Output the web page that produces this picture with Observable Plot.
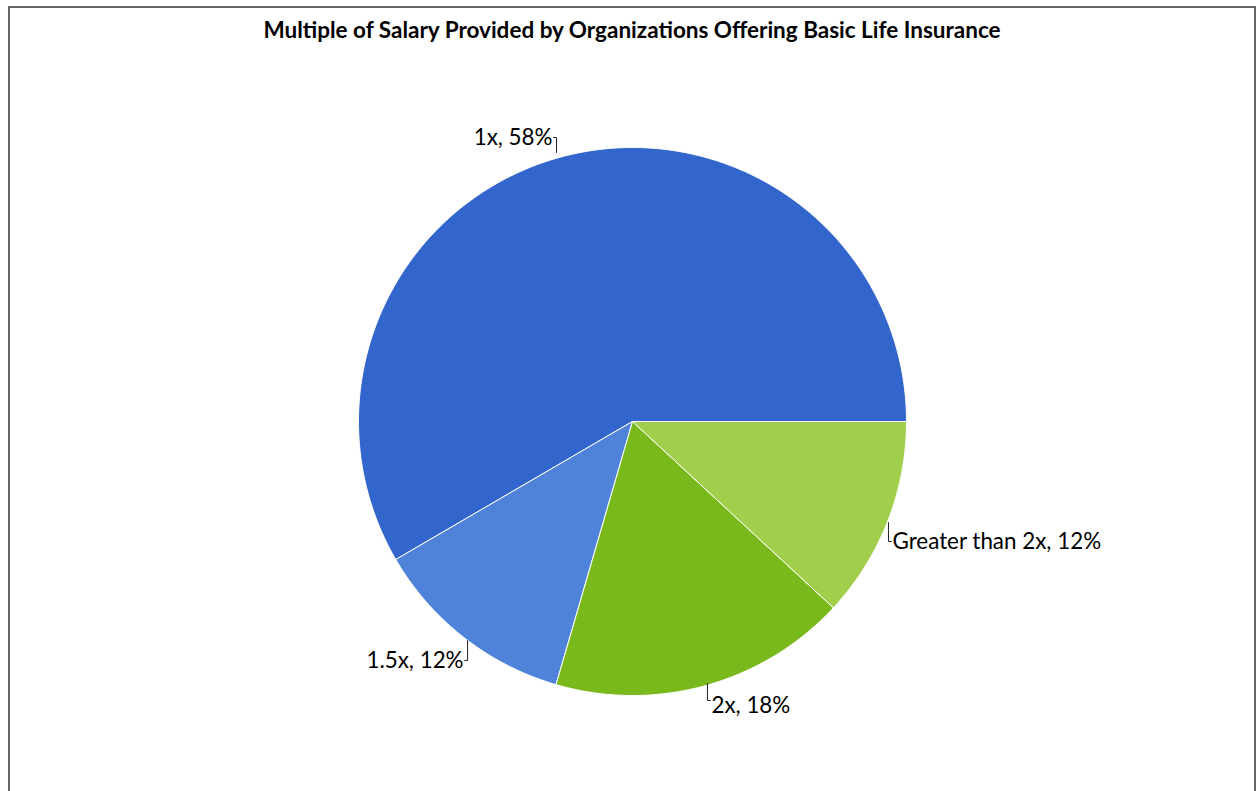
<!DOCTYPE html>
<html>
<head>
<meta charset="utf-8">
<script src="https://cdn.jsdelivr.net/npm/d3@7"></script>
<script src="https://cdn.jsdelivr.net/npm/@observablehq/plot@0.6"></script>
<style>
  html, body { margin: 0; padding: 0; background: #fff; overflow: hidden; }
  body { width: 1260px; height: 791px; position: relative; font-family: Lato, "Noto Sans", sans-serif; }
  #frame { position: absolute; left: 8px; top: 6px; width: 1244px; height: 800px;
           border: 2px solid #666; border-bottom: none; }
  #title { position: absolute; left: 0; top: 19px; width: 1264px; text-align: center;
           font-weight: bold; font-size: 22.5px; line-height: 22.5px; color: #000; }
  #chart { position: absolute; left: 0; top: 60px; }
</style>
</head>
<body>
<div id="frame"></div>
<div id="title">Multiple of Salary Provided by Organizations Offering Basic Life Insurance</div>
<div id="chart"></div>
<script>
// ---- data (share of organizations, %) ----
const categories = ["1x", "1.5x", "2x", "Greater than 2x"];
const shares = [58.4, 12.1, 17.6, 11.9];
const colors = ["#3366cc", "#4f83d9", "#7ab91c", "#a1cf4b"];

// ---- layout (pixels) ----
const W = 1260, H = 731;
const cx = 632, cy = 361, R = 274;          // pie centre / radius inside the svg
// leader tweaks per label: start nudge (dx, dy), vertical length, text dy
const leaderTweak = {
  "1x":              {dx: -4.5, dy: -4.5, len: 15, ty: 0},
  "1.5x":            {dx: 3.7,  dy: 3.1,  len: 20, ty: 0},
  "2x":              {dx: 1.8,  dy: -2.1, len: 17, ty: 5},
  "Greater than 2x": {dx: 0.9,  dy: 1,    len: 19, ty: 0}
};

const total = d3.sum(shares);
let acc = 0;
const slices = categories.map((c, i) => {
  const a0 = acc / total * 2 * Math.PI;
  acc += shares[i];
  const a1 = acc / total * 2 * Math.PI;
  return {category: c, share: shares[i], a0, a1};
});

// polygon outline of each slice (counter-clockwise from 3 o'clock)
const slicePts = [];
for (const s of slices) {
  const n = Math.max(2, Math.ceil((s.a1 - s.a0) / (Math.PI / 360)));
  slicePts.push({category: s.category, x: 0, y: 0});
  for (let k = 0; k <= n; k++) {
    const a = s.a0 + (s.a1 - s.a0) * k / n;
    slicePts.push({category: s.category, x: Math.cos(a), y: Math.sin(a)});
  }
  slicePts.push({category: s.category, x: 0, y: 0});
}

// leader lines and label anchors, px offsets converted to data units
const u = 1 / R;
const leaderPts = [];
const labels = [];
for (const s of slices) {
  const m = (s.a0 + s.a1) / 2;
  const t = leaderTweak[s.category];
  const sx = Math.cos(m) + t.dx * u, sy = Math.sin(m) - t.dy * u;
  const vdir = Math.sin(m) >= 0 ? 1 : -1;
  const hdir = Math.cos(m) >= 0 ? 1 : -1;
  const ey = sy + vdir * t.len * u;
  const ex = sx + hdir * 3 * u;
  leaderPts.push({category: s.category, x: sx, y: sy});
  leaderPts.push({category: s.category, x: sx, y: ey});
  leaderPts.push({category: s.category, x: ex, y: ey});
  labels.push({
    text: `${s.category}, ${Math.round(s.share / total * 100)}%`,
    x: ex + hdir * 1 * u,
    y: ey - t.ty * u,
    side: hdir
  });
}

const chart = Plot.plot({
  width: W,
  height: H,
  marginLeft: cx - R,
  marginRight: W - (cx + R),
  marginTop: cy - R,
  marginBottom: H - (cy + R),
  x: {domain: [-1, 1], axis: null},
  y: {domain: [-1, 1], axis: null},
  color: {domain: categories, range: colors},
  style: {fontFamily: "Lato, 'Noto Sans', sans-serif", background: "transparent"},
  marks: [
    Plot.line(slicePts, {x: "x", y: "y", z: "category", fill: "category",
      stroke: "white", strokeWidth: 1, strokeLinejoin: "round", curve: "linear"}),
    Plot.line(leaderPts, {x: "x", y: "y", z: "category", stroke: "#222", strokeWidth: 1, curve: "linear"}),
    Plot.text(labels.filter(d => d.side < 0), {x: "x", y: "y", text: "text", textAnchor: "end",
      fontSize: 22.4, fill: "#000"}),
    Plot.text(labels.filter(d => d.side > 0), {x: "x", y: "y", text: "text", textAnchor: "start",
      fontSize: 22.4, fill: "#000"})
  ]
});
document.getElementById("chart").appendChild(chart);
</script>
</body>
</html>
